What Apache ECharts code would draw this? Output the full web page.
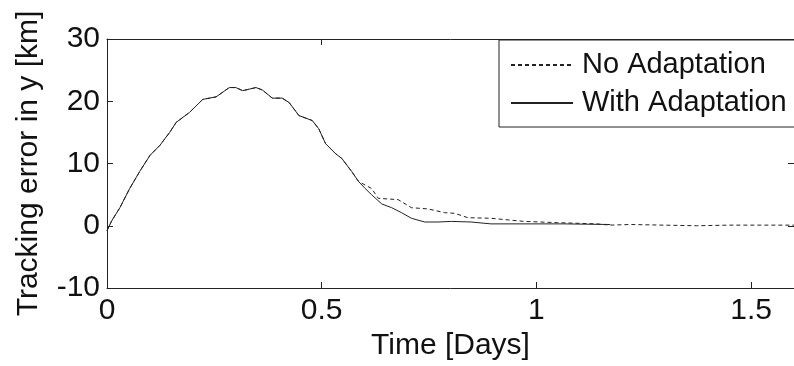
<!DOCTYPE html>
<html>
<head>
<meta charset="utf-8">
<script src="https://cdn.jsdelivr.net/npm/echarts@6/dist/echarts.min.js"></script>
<style>
  html, body { margin: 0; background: #fff; }
  #chart { width: 794px; height: 366px; }
</style>
</head>
<body>
<div id="chart"></div>
<script>
// both runs share the same rise-and-fall until ~0.59 days
const timeShared = [0, 0.004, 0.011, 0.030, 0.053, 0.076, 0.100, 0.123, 0.146, 0.161, 0.192, 0.223, 0.254, 0.285, 0.300, 0.316, 0.347, 0.362, 0.385, 0.408, 0.424, 0.447, 0.478, 0.493, 0.509, 0.532, 0.547, 0.570, 0.586]
const errShared = [-0.8, -0.2, 0.8, 2.9, 6.0, 8.7, 11.3, 12.9, 15.0, 16.6, 18.2, 20.3, 20.7, 22.2, 22.2, 21.7, 22.2, 21.8, 20.5, 20.5, 19.8, 17.7, 16.9, 15.6, 13.2, 11.6, 10.8, 8.7, 7.1]

// after that they split
const timeNoAdapt = [0.616, 0.632, 0.678, 0.709, 0.748, 0.786, 0.810, 0.840, 0.894, 0.971, 1.049, 1.141, 1.172, 1.218, 1.296, 1.373, 1.450, 1.527, 1.600]
const errNoAdapt = [6.0, 4.4, 4.2, 2.9, 2.7, 2.1, 2.0, 1.3, 1.2, 0.7, 0.5, 0.3, 0.1, 0.2, 0.1, 0.0, 0.1, 0.1, 0.1]
const timeWithAdapt = [0.601, 0.616, 0.640, 0.663, 0.686, 0.709, 0.740, 0.771, 0.802, 0.848, 0.894, 0.987, 1.064, 1.172]
const errWithAdapt = [6.0, 5.0, 3.5, 2.9, 2.1, 1.2, 0.6, 0.6, 0.7, 0.6, 0.3, 0.3, 0.3, 0.2]

const seriesNames = ['No Adaptation', 'With Adaptation']

const FONT = 'Liberation Sans, Arial, sans-serif'
const INK = '#111'

function pairs(ts, ys) {
  return ts.map((t, i) => [t, ys[i]])
}

const chart = echarts.init(document.getElementById('chart'))

// the plot is drawn as a closed box like MATLAB: extra top/right axes carry the ticks only
const axisCommon = {
  type: 'value',
  axisLine: { show: true, onZero: false, lineStyle: { color: '#222', width: 1 } },
  axisTick: { show: true, inside: true, length: 6, lineStyle: { color: '#222' } },
  splitLine: { show: false }
}

chart.setOption({
  animation: false,
  grid: { left: 107, top: 39, width: 691, height: 251 },
  legend: {
    orient: 'vertical',
    left: 499,
    top: 40,
    padding: [10, 30, 9, 11],
    itemGap: 8,
    itemWidth: 62,
    itemHeight: 14,
    borderColor: '#222',
    borderWidth: 1,
    borderRadius: 0,
    backgroundColor: '#fff',
    data: seriesNames,
    // hide the marker dot, keep just the line sample
    itemStyle: { color: 'transparent', borderColor: 'transparent', borderWidth: 0 },
    textStyle: { fontFamily: FONT, fontSize: 29, color: INK, lineHeight: 30, padding: [0, 0, 0, 4] }
  },
  xAxis: [
    {
      ...axisCommon,
      position: 'bottom',
      min: 0,
      max: 1.6,
      interval: 0.5,
      name: 'Time [Days]',
      nameLocation: 'middle',
      nameGap: 43,
      nameTextStyle: { fontFamily: FONT, fontSize: 30, color: INK },
      axisLabel: { fontFamily: FONT, fontSize: 30, color: INK, margin: 8, showMaxLabel: false }
    },
    {
      ...axisCommon,
      position: 'top',
      min: 0,
      max: 1.6,
      interval: 0.5,
      axisLabel: { show: false }
    }
  ],
  yAxis: [
    {
      ...axisCommon,
      position: 'left',
      min: -10,
      max: 30,
      interval: 10,
      name: 'Tracking error in y [km]',
      nameLocation: 'middle',
      nameGap: 63,
      nameTextStyle: { fontFamily: FONT, fontSize: 30, color: INK },
      axisLabel: { fontFamily: FONT, fontSize: 30, color: INK, margin: 7 }
    },
    {
      ...axisCommon,
      position: 'right',
      min: -10,
      max: 30,
      interval: 10,
      axisLabel: { show: false }
    }
  ],
  series: [
    {
      name: seriesNames[0],
      type: 'line',
      symbol: 'none',
      data: pairs(timeShared.concat(timeNoAdapt), errShared.concat(errNoAdapt)),
      lineStyle: { color: '#222', width: 1, type: [4, 3] },
      itemStyle: { color: '#222' }
    },
    {
      name: seriesNames[1],
      type: 'line',
      symbol: 'none',
      data: pairs(timeShared.concat(timeWithAdapt), errShared.concat(errWithAdapt)),
      lineStyle: { color: '#222', width: 1 },
      itemStyle: { color: '#222' }
    }
  ]
})
</script>
</body>
</html>
